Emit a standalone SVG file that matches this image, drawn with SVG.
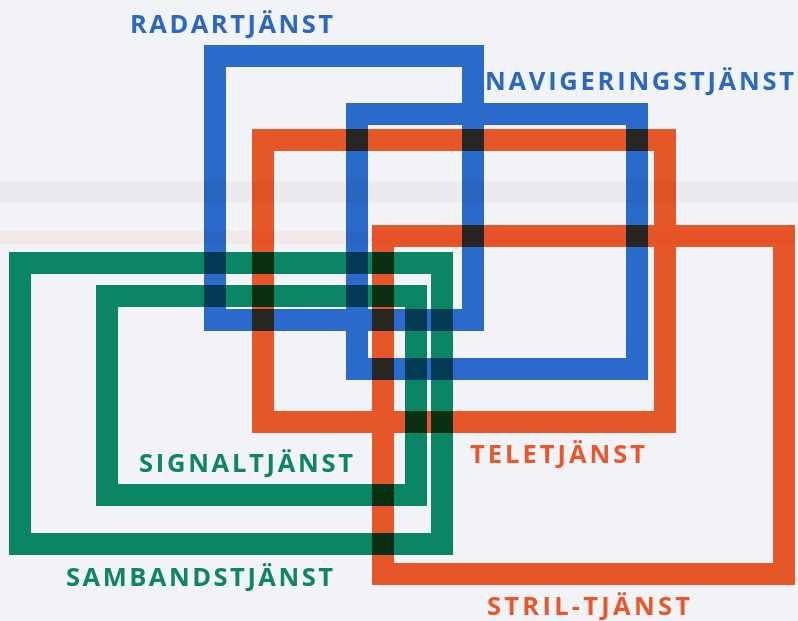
<svg xmlns="http://www.w3.org/2000/svg" width="798" height="621" viewBox="0 0 798 621">
<style>
.frame{fill:none;stroke-width:22;stroke-linejoin:miter}
.layer{mix-blend-mode:multiply}
.blue{stroke:#2b6fd2}
.orange{stroke:#f25a2a}
.green{stroke:#0b8d68}
.lbl{font-family:"Open Sans",Lato,"Liberation Sans",sans-serif;font-weight:700;font-size:25.5px}
.tb{fill:#2c68c2}
.to{fill:#e9572c}
.tg{fill:#0d8661}
</style>
<rect x="0" y="0" width="798" height="621" fill="#f2f3f6"/>
<rect x="0" y="181" width="798" height="21" fill="#e8e4e6" opacity="0.6"/>
<rect x="0" y="231" width="798" height="13" fill="#f2e0e0" opacity="0.5"/>
<g id="nodes">
<g class="layer">
<g id="radartjanst">
<rect class="frame blue" x="215" y="56" width="258" height="264"/>
</g>
<g id="navigeringstjanst">
<rect class="frame blue" x="357" y="114" width="280" height="255"/>
</g>
</g>
<g class="layer">
<g id="teletjanst">
<rect class="frame orange" x="263" y="140" width="402" height="282"/>
</g>
<g id="striltjanst">
<rect class="frame orange" x="383" y="236" width="401" height="338"/>
</g>
</g>
<g class="layer">
<g id="sambandstjanst">
<rect class="frame green" x="20" y="263" width="422" height="281"/>
</g>
<g id="signaltjanst">
<rect class="frame green" x="107" y="296" width="309" height="199"/>
</g>
</g>
<g id="labels">
<text class="lbl tb" x="130" y="33" textLength="203" lengthAdjust="spacing">RADARTJÄNST</text>
<text class="lbl tb" x="485" y="90" textLength="309" lengthAdjust="spacing">NAVIGERINGSTJÄNST</text>
<text class="lbl to" x="470" y="463" textLength="175" lengthAdjust="spacing">TELETJÄNST</text>
<text class="lbl to" x="487" y="615" textLength="203" lengthAdjust="spacing">STRIL-TJÄNST</text>
<text class="lbl tg" x="66" y="586" textLength="267" lengthAdjust="spacing">SAMBANDSTJÄNST</text>
<text class="lbl tg" x="139" y="472" textLength="214" lengthAdjust="spacing">SIGNALTJÄNST</text>
</g>
</g>
<g id="connectors"/>
</svg>
